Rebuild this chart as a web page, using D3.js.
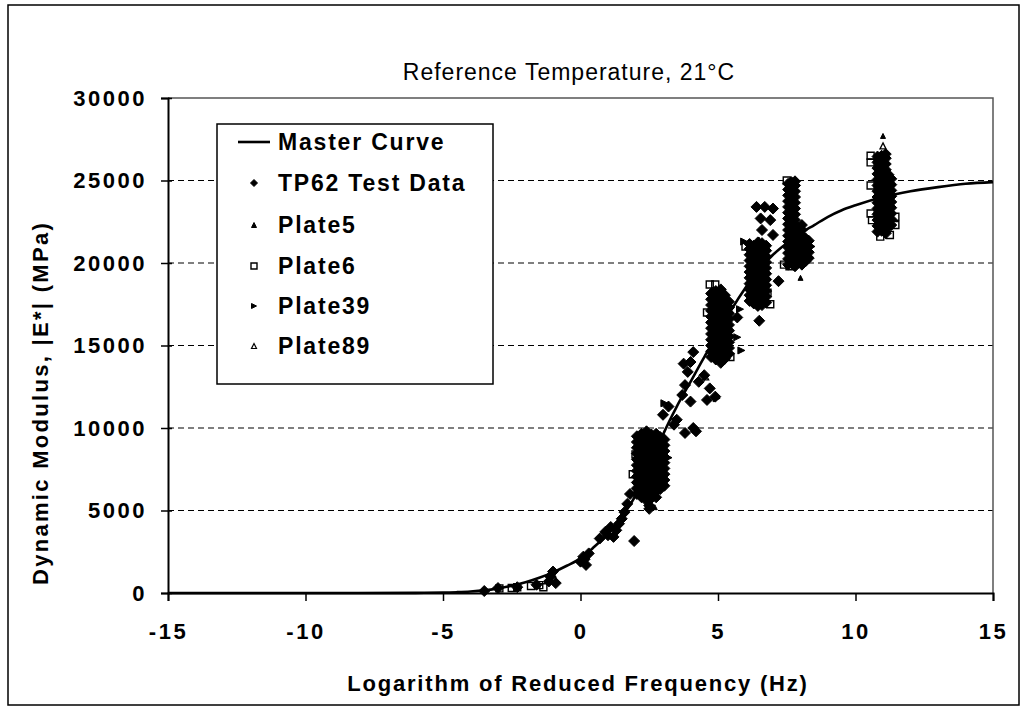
<!DOCTYPE html>
<html>
<head>
<meta charset="utf-8">
<script src="https://cdn.jsdelivr.net/npm/d3@7/dist/d3.min.js"></script>
<style>
  html, body { margin: 0; padding: 0; background: #fff; }
  svg { display: block; }
  text { font-family: 'Liberation Sans', Arial, sans-serif; fill: #000; }
</style>
</head>
<body>
<svg id="chart" width="1024" height="713"></svg>
<script>
// ---------- data ----------
const titleText = "Reference Temperature, 21°C";
const xLabel = "Logarithm of Reduced Frequency (Hz)";
const yLabel = "Dynamic Modulus, |E*| (MPa)";
const xTicks = [-15, -10, -5, 0, 5, 10, 15];
const yTicks = [0, 5000, 10000, 15000, 20000, 25000, 30000];
const legendLabels = ["Master Curve", "TP62 Test Data", "Plate5", "Plate6", "Plate39", "Plate89"];

// master curve
const curveX = [-15, -10, -6, -5, -4.5, -4, -3.5, -3, -2.5, -2, -1.5, -1, -0.5, 0, 0.5, 1, 1.5, 2, 2.5, 3, 3.5, 4, 4.5, 5, 5.5, 6, 6.5, 7, 7.5, 8, 8.5, 9, 9.5, 10, 11, 12, 13, 14, 15];
const curveY = [0, 2, 10, 25, 50, 90, 160, 280, 440, 650, 920, 1250, 1650, 2100, 2800, 3600, 4600, 5900, 7600, 9600, 11300, 12800, 14300, 15700, 17200, 18500, 19600, 20500, 21200, 21800, 22300, 22800, 23200, 23500, 24000, 24350, 24600, 24800, 24900];

// TP62 scattered points
const tp62Scatter = [
  [-3.5,120],[-3.0,300],[-2.3,350],[-1.6,500],[-1.15,700],[-1.1,1000],[-1.0,1300],[-0.9,600],
  [0.0,1900],[0.1,2200],[0.2,1700],[0.3,2400],[0.15,2050],
  [0.7,3300],[0.9,3700],[1.0,3500],[1.1,4000],[1.2,3400],[1.3,3800],[1.4,4200],[1.5,4500],[1.95,3150],
  [1.6,4900],[1.7,5400],[1.8,6000],
  [3.0,10800],[3.2,11300],[3.4,10200],[3.5,10500],[3.7,12000],[3.8,12600],[3.9,13400],[4.0,11600],
  [4.1,10000],[4.2,9800],[3.8,9700],[4.0,14000],[4.3,12800],[4.5,13200],[4.7,12400],[4.9,11900],
  [4.6,11700],[4.1,14600],[3.75,13900],
  [6.4,23400],[6.7,23400],[7.0,23300],[6.55,22700],[6.9,22600],[6.6,22000],[7.0,21700],
  [7.2,18900],[6.5,16500],[5.7,16700]
];
// TP62 dense clusters: [x, list of moduli stacked at that x]
const tp62Columns = [
  [2.05, [6000,6350,6700,7050,7400,7750,8100,8450,8800,9150,9500]],
  [2.22, [5800,6150,6500,6850,7200,7550,7900,8250,8600,8950,9300,9650]],
  [2.4,  [5600,5950,6300,6650,7000,7350,7700,8050,8400,8750,9100,9450,9800]],
  [2.58, [5750,6100,6450,6800,7150,7500,7850,8200,8550,8900,9250,9600]],
  [2.75, [5800,6150,6500,6850,7200,7550,7900,8250,8600,8950,9300,9650]],
  [2.9,  [6300,6650,7000,7350,7700,8050,8400,8750,9100,9450]],
  [3.05, [6500,6850,7200,7550,7900,8250,8600,8950,9300]],
  [2.5,  [5100,5300]],
  [4.75, [14300,14650,15000,15350,15700,16050,16400,16750,17100,17450,17800,18150]],
  [4.92, [14150,14500,14850,15200,15550,15900,16250,16600,16950,17300,17650,18000,18300]],
  [5.1,  [13950,14300,14650,15000,15350,15700,16050,16400,16750,17100,17450,17800,18150,18400]],
  [5.25, [14200,14550,14900,15250,15600,15950,16300,16650,17000,17350,17700,18050]],
  [5.4,  [14500,14850,15200,15550,15900,16250,16600,16950,17300,17650]],
  [6.15, [17700,18050,18400,18750,19100,19450,19800,20150,20500,20850,21150]],
  [6.3,  [17550,17900,18250,18600,18950,19300,19650,20000,20350,20700,21050]],
  [6.45, [17400,17750,18100,18450,18800,19150,19500,19850,20200,20550,20900,21250]],
  [6.6,  [17450,17800,18150,18500,18850,19200,19550,19900,20250,20600,20950,21200]],
  [6.75, [17600,17950,18300,18650,19000,19350,19700,20050,20400,20750,21050]],
  [7.55, [19900,20250,20600,20950,21300,21650,22000,22350,22700,23050,23400,23750,24100,24450,24800]],
  [7.67, [20000,20350,20700,21050,21400,21750,22100,22450,22800,23150,23500,23850,24200,24550,24900]],
  [7.8,  [19800,20150,20500,20850,21200,21550,21900,22250,22600,22950,23300,23650,24000,24350,24700,24950]],
  [7.93, [20050,20400,20750,21100,21450,21800,22150]],
  [8.05, [19900,20250,20600,20950,21300,21650,22000,22300]],
  [8.18, [20100,20450,20800,21150,21500]],
  [8.3,  [20300,20650,21000,21350]],
  [10.8, [21900,22250,22600,22950,23300,23650,24000,24350,24700,25050,25400,25750,26100,26450]],
  [10.95,[21950,22300,22650,23000,23350,23700,24050,24400,24750,25100,25450,25800,26150,26500]],
  [11.1, [21800,22150,22500,22850,23200,23550,23900,24250,24600,24950,25300,25650,26000,26350,26600]],
  [11.2, [22200,22550,22900,23250,23600,23950,24300,24650,25000,25350]],
  [11.3, [22300,22650,23000,23350,23700,24050,24400,24750,25100]]
];
const plate5 = [[8.0,19100],[11.0,27700],[6.5,21400],[2.7,5200]];
const plate6 = [
  [-2.95,280],[-2.5,300],[-2.3,350],[-1.8,420],[-1.5,480],[-1.35,350],
  [1.9,7200],[2.0,8400],[2.1,6600],
  [4.7,18700],[4.9,18700],[5.3,14700],[5.45,14300],[4.6,17000],
  [6.0,21000],[6.8,18200],[6.9,17500],
  [7.4,19900],[7.6,19800],[7.5,25000],
  [10.55,26500],[10.55,26100],[10.55,24700],[10.55,23000],[10.6,22600],[11.45,22800],[11.45,22300],[11.25,21700],[10.9,21600]
];
const plate39 = [[3.2,8200],[3.05,11500],[5.8,17200],[5.85,14700],[5.7,15500],[5.95,21300],[4.95,11800],[8.4,21000]];
const plate89 = [[11.0,27100],[6.55,20900],[4.55,13100],[-1.0,1100]];

// ---------- drawing ----------
const svg = d3.select("#chart");
const plot = { left: 168, right: 993, top: 98, bottom: 593 };
const FONT = "'Liberation Sans', Arial, sans-serif";

const x = d3.scaleLinear().domain([-15, 15]).range([plot.left, plot.right]);
const y = d3.scaleLinear().domain([0, 30000]).range([plot.bottom, plot.top]);

// outer frame
svg.append("rect").attr("x", 8).attr("y", 5).attr("width", 1011).attr("height", 700)
  .attr("fill", "none").attr("stroke", "#000").attr("stroke-width", 1.5);

// gridlines
svg.append("g").selectAll("line").data(yTicks.filter(v => v > 0 && v < 30000)).join("line")
  .attr("x1", plot.left).attr("x2", plot.right)
  .attr("y1", d => y(d)).attr("y2", d => y(d))
  .attr("stroke", "#000").attr("stroke-width", 1.2).attr("stroke-dasharray", "6,4");

// plot frame top/right
svg.append("path")
  .attr("d", `M${plot.left},${plot.top}H${plot.right}V${plot.bottom}`)
  .attr("fill", "none").attr("stroke", "#555").attr("stroke-width", 1.5);

// axes
const yAxis = d3.axisLeft(y).tickValues(yTicks).tickSize(7).tickPadding(14).tickFormat(d => String(d));
const gy = svg.append("g").attr("transform", `translate(${plot.left},0)`).call(yAxis);
gy.select(".domain").attr("stroke", "#000").attr("stroke-width", 2);
gy.selectAll(".tick line").attr("stroke", "#000").attr("stroke-width", 1.5).attr("x2", -7).attr("x1", 4);
gy.selectAll(".tick text").attr("font-size", 22).attr("font-weight", "bold").attr("letter-spacing", 2.5)
  .attr("font-family", FONT).attr("fill", "#000");

const xAxis = d3.axisBottom(x).tickValues(xTicks).tickSize(8).tickPadding(22).tickFormat(d => String(d));
const gx = svg.append("g").attr("transform", `translate(0,${plot.bottom})`).call(xAxis);
gx.select(".domain").attr("stroke", "#000").attr("stroke-width", 2);
gx.selectAll(".tick line").attr("stroke", "#000").attr("stroke-width", 1.5);
gx.selectAll(".tick text").attr("font-size", 22).attr("font-weight", "bold").attr("letter-spacing", 2.5)
  .attr("font-family", FONT).attr("fill", "#000");

// master curve
const curveData = curveX.map((v, i) => [v, curveY[i]]);
const line = d3.line().x(d => x(d[0])).y(d => y(d[1])).curve(d3.curveMonotoneX);
svg.append("path").datum(curveData).attr("d", line)
  .attr("fill", "none").attr("stroke", "#000").attr("stroke-width", 2.6);

// marker shapes
const shapes = {
  diamond: r => `M0,${-r}L${r},0L0,${r}L${-r},0Z`,
  tri: r => `M0,${-r}L${r},${r}L${-r},${r}Z`,
  square: r => `M${-r},${-r}H${r}V${r}H${-r}Z`,
  triRight: r => `M${-r},${-r}L${r},0L${-r},${r}Z`
};
function drawSeries(data, shape, r, fill, stroke, sw) {
  svg.append("g").selectAll("path").data(data).join("path")
    .attr("transform", d => `translate(${x(d[0])},${y(d[1])})`)
    .attr("d", shapes[shape](r))
    .attr("fill", fill).attr("stroke", stroke).attr("stroke-width", sw);
}
const tp62 = tp62Scatter.concat(tp62Columns.flatMap(c => c[1].map(v => [c[0], v])));
drawSeries(tp62, "diamond", 5.5, "#000", "#000", 1);
drawSeries(plate5, "tri", 2.5, "#000", "#000", 1);
drawSeries(plate6, "square", 3.5, "none", "#000", 1.4);
drawSeries(plate39, "triRight", 3.5, "#000", "#000", 1);
drawSeries(plate89, "tri", 3, "none", "#000", 1.3);

// title
svg.append("text").attr("x", 569).attr("y", 80).attr("text-anchor", "middle")
  .attr("font-size", 23).attr("letter-spacing", 1).text(titleText);

// axis titles
svg.append("text").attr("x", 578).attr("y", 691).attr("text-anchor", "middle")
  .attr("font-size", 22).attr("font-weight", "bold").attr("letter-spacing", 1.8).text(xLabel);
svg.append("text").attr("transform", "translate(48,403) rotate(-90)").attr("text-anchor", "middle")
  .attr("font-size", 22).attr("font-weight", "bold").attr("letter-spacing", 2.3).text(yLabel);

// legend
const lg = svg.append("g");
lg.append("rect").attr("x", 217).attr("y", 124).attr("width", 276).attr("height", 260)
  .attr("fill", "#fff").attr("stroke", "#000").attr("stroke-width", 1.5);
const rowY = [148, 189, 231, 272, 312, 352];
const legendShapes = [null, ["diamond", 3.5, "#000", 1], ["tri", 2.5, "#000", 1], ["square", 3, "none", 1.4], ["triRight", 2.5, "#000", 1], ["tri", 2.5, "none", 1.2]];
legendLabels.forEach((lab, i) => {
  if (i === 0) {
    lg.append("line").attr("x1", 238).attr("x2", 270).attr("y1", rowY[i] - 6).attr("y2", rowY[i] - 6)
      .attr("stroke", "#000").attr("stroke-width", 2.6);
  } else {
    const s = legendShapes[i];
    lg.append("path").attr("transform", `translate(254,${rowY[i] - 6})`).attr("d", shapes[s[0]](s[1]))
      .attr("fill", s[2]).attr("stroke", "#000").attr("stroke-width", s[3]);
  }
  lg.append("text").attr("x", 278).attr("y", rowY[i] + 2).attr("font-size", 23).attr("font-weight", "bold")
    .attr("letter-spacing", 1.8).text(lab);
});
</script>
</body>
</html>
